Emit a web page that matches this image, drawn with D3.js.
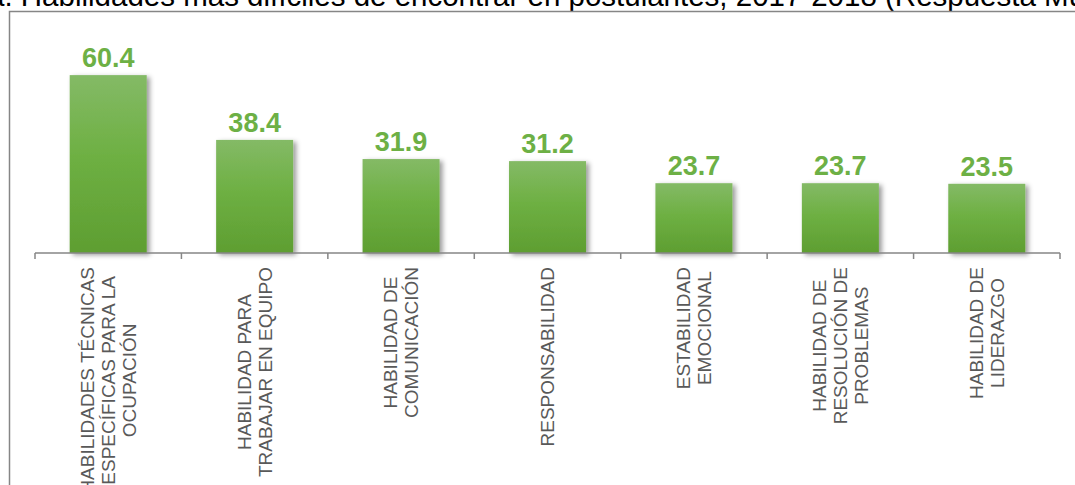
<!DOCTYPE html>
<html>
<head>
<meta charset="utf-8">
<script src="https://cdn.jsdelivr.net/npm/d3@7"></script>
<style>
  html, body { margin: 0; padding: 0; background: #fff; overflow: hidden; }
  svg { display: block; }
</style>
</head>
<body>
<svg id="chart" width="1075" height="485"></svg>
<script>
const titleText = "a. Habilidades más difíciles de encontrar en postulantes, 2017-2018 (Respuesta Múltiple)";
const categories = [
  "HABILIDADES TÉCNICAS ESPECÍFICAS PARA LA OCUPACIÓN",
  "HABILIDAD PARA TRABAJAR EN EQUIPO",
  "HABILIDAD DE COMUNICACIÓN",
  "RESPONSABILIDAD",
  "ESTABILIDAD EMOCIONAL",
  "HABILIDAD DE RESOLUCIÓN DE PROBLEMAS",
  "HABILIDAD DE LIDERAZGO"
];
const labelLines = [
  ["HABILIDADES TÉCNICAS", "ESPECÍFICAS PARA LA", "OCUPACIÓN"],
  ["HABILIDAD PARA", "TRABAJAR EN EQUIPO"],
  ["HABILIDAD DE", "COMUNICACIÓN"],
  ["RESPONSABILIDAD"],
  ["ESTABILIDAD", "EMOCIONAL"],
  ["HABILIDAD DE", "RESOLUCIÓN DE", "PROBLEMAS"],
  ["HABILIDAD DE", "LIDERAZGO"]
];
const values = [60.4, 38.4, 31.9, 31.2, 23.7, 23.7, 23.5];

const svg = d3.select("#chart");
const font = "'Liberation Sans', Arial, Helvetica, sans-serif";

// title (partially clipped at top like the reference)
svg.append("text")
  .attr("x", -12).attr("y", 6)
  .attr("font-family", font).attr("font-size", 29.5)
  .attr("fill", "#000")
  .text(titleText);

// frame
svg.append("path")
  .attr("d", "M9.5,485 L9.5,11.5 L1075,11.5")
  .attr("fill", "none").attr("stroke", "#868686").attr("stroke-width", 1.5);

const defs = svg.append("defs");
const grad = defs.append("linearGradient").attr("id", "barGrad")
  .attr("x1", 0).attr("y1", 0).attr("x2", 0).attr("y2", 1);
grad.append("stop").attr("offset", "0%").attr("stop-color", "#84BA66");
grad.append("stop").attr("offset", "45%").attr("stop-color", "#6EB043");
grad.append("stop").attr("offset", "100%").attr("stop-color", "#5E9E31");
const filt = defs.append("filter").attr("id", "shadow")
  .attr("x", "-20%").attr("y", "-10%").attr("width", "150%").attr("height", "130%");
filt.append("feDropShadow").attr("dx", 3).attr("dy", 2).attr("stdDeviation", 2.5)
  .attr("flood-color", "#000").attr("flood-opacity", 0.4);

const x = d3.scaleBand().domain(categories).range([35, 1060])
  .paddingInner(0.474).paddingOuter(0.237);
const y = d3.scaleLinear().domain([0, 70]).range([253, 253 - 70 * 2.945]);

// bars
svg.append("g").selectAll("rect").data(values).join("rect")
  .attr("x", (d, i) => x(categories[i]))
  .attr("y", d => y(d))
  .attr("width", x.bandwidth())
  .attr("height", d => y(0) - y(d))
  .attr("fill", "url(#barGrad)")
  .attr("filter", "url(#shadow)");

// value labels
svg.append("g").selectAll("text").data(values).join("text")
  .attr("x", (d, i) => x(categories[i]) + x.bandwidth() / 2)
  .attr("y", d => y(d) - 8)
  .attr("text-anchor", "middle")
  .attr("font-family", font).attr("font-size", 27).attr("font-weight", "bold")
  .attr("fill", "#6DB045")
  .text(d => d.toFixed(1));

// axis
const step = x.step();
const gap = step - x.bandwidth();
const axisY = y(0);
const ax = svg.append("g");
ax.append("line")
  .attr("x1", x.range()[0]).attr("x2", x.range()[1])
  .attr("y1", axisY).attr("y2", axisY)
  .attr("stroke", "#868686").attr("stroke-width", 1.5);
const tickXs = categories.map(c => x(c) - gap / 2).concat([x.range()[1]]);
ax.selectAll("line.tick").data(tickXs).join("line").attr("class", "tick")
  .attr("x1", d => d).attr("x2", d => d)
  .attr("y1", axisY).attr("y2", axisY + 6)
  .attr("stroke", "#868686").attr("stroke-width", 1.5);

// category labels, rotated
const fs = 19, lh = 21;
categories.forEach((c, i) => {
  const lines = labelLines[i];
  const cx = x(c) + x.bandwidth() / 2;
  const g = ax.append("g").attr("transform", `translate(${cx},${axisY + 14}) rotate(-90)`);
  const t = g.append("text")
    .attr("font-family", font).attr("font-size", fs).attr("fill", "#595959")
    .attr("text-anchor", "middle");
  const n = lines.length;
  const spans = lines.map((ln, k) => t.append("tspan")
    .attr("x", 0)
    .attr("y", (k - (n - 1) / 2) * lh + fs * 0.35)
    .text(ln));
  const maxW = d3.max(spans, s => s.node().getComputedTextLength());
  spans.forEach(s => s.attr("x", -maxW / 2));
});
</script>
</body>
</html>
